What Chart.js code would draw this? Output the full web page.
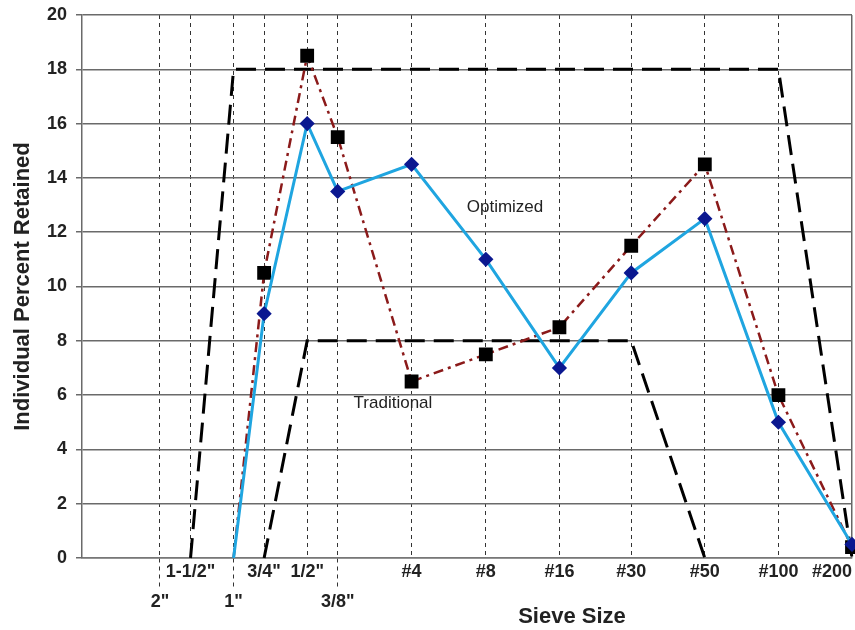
<!DOCTYPE html>
<html>
<head>
<meta charset="utf-8">
<title>Sieve Size - Individual Percent Retained</title>
<script src="https://cdn.jsdelivr.net/npm/chart.js@4.4.0/dist/chart.umd.min.js"></script>
<style>
  html, body { margin: 0; padding: 0; background: #fff; }
  canvas { display: block; }
</style>
</head>
<body>
<canvas id="sieveChart" width="855" height="630"></canvas>
<script>
// sieve sizes (labels) and their openings in mm
const sieveLabels = ['2"', '1-1/2"', '1"', '3/4"', '1/2"', '3/8"', '#4', '#8', '#16', '#30', '#50', '#100', '#200'];
const sieveOpenings = [50.8, 38.1, 25.4, 19.05, 12.7, 9.525, 4.75, 2.36, 1.18, 0.6, 0.3, 0.15, 0.075];
// labels written on the second row under the axis
const lowerRowLabels = ['2"', '1"', '3/8"'];

// percent retained on each sieve (null = no point)
const optimized   = [null, null, 0, 9,    16,   13.5, 14.5, 11,  7,   10.5, 12.5, 5, 0.5];
const traditional = [null, null, 0, 10.5, 18.5, 15.5, 6.5,  7.5, 8.5, 11.5, 14.5, 6, 0.4];
// dashed limit lines
const limit18 = [null, 0,    18,   18,   18, 18, 18, 18, 18, 18, 18,   18,   0];
const limit8  = [null, null, null, 0,    8,  8,  8,  8,  8,  8,  0,    null, null];

// y axis ticks
const yMin = 0;
const yMax = 20;
const yStep = 2;
// left end of the sieve axis (mm)
const X_AXIS_MAX = 105.9;

// text notes inside the plot: [text, opening mm, percent]
const noteTexts = ['Optimized', 'Traditional'];
const noteX = [1.97, 5.66];
const noteY = [12.9, 5.7];

const FONT = '"Liberation Sans", Arial, Helvetica, sans-serif';

function toPoints(values) {
  return values
    .map((v, i) => (v === null ? null : { x: sieveOpenings[i], y: v }))
    .filter(p => p !== null);
}

// notes and x title
const textPlugin = {
  id: 'textNotes',
  afterDatasetsDraw(chart) {
    const { ctx, scales } = chart;
    ctx.save();
    ctx.fillStyle = '#222';
    ctx.font = '17px ' + FONT;
    ctx.textAlign = 'center';
    ctx.textBaseline = 'middle';
    noteTexts.forEach((t, i) => {
      ctx.fillText(t, scales.x.getPixelForValue(noteX[i]), scales.y.getPixelForValue(noteY[i]));
    });
    ctx.font = 'bold 22px ' + FONT;
    ctx.fillText('Sieve Size', 572, 617);
    ctx.restore();
  }
};

const ctx = document.getElementById('sieveChart').getContext('2d');
new Chart(ctx, {
  type: 'line',
  data: {
    datasets: [
      {
        label: 'Optimized',
        data: toPoints(optimized),
        borderColor: '#1fa5e0',
        borderWidth: 3,
        pointStyle: 'rectRot',
        pointRadius: c => (c.raw && c.raw.y === 0 ? 0 : 5.5),
        pointBackgroundColor: '#0b1890',
        pointBorderColor: '#0b1890',
        tension: 0
      },
      {
        label: 'Traditional',
        data: toPoints(traditional),
        borderColor: '#8b1a1a',
        borderWidth: 2.5,
        borderDash: [10, 5, 3, 5],
        pointStyle: 'rect',
        pointRadius: c => (c.raw && c.raw.y === 0 ? 0 : 8),
        pointBackgroundColor: '#000',
        pointBorderColor: '#000',
        tension: 0
      },
      {
        label: 'Limit 18',
        data: toPoints(limit18),
        borderColor: '#000',
        borderWidth: 3,
        borderDash: [20, 9],
        pointRadius: 0,
        tension: 0
      },
      {
        label: 'Limit 8',
        data: toPoints(limit8),
        borderColor: '#000',
        borderWidth: 3,
        borderDash: [20, 9],
        pointRadius: 0,
        tension: 0
      }
    ]
  },
  options: {
    responsive: false,
    animation: false,
    clip: false,
    layout: {
      autoPadding: false,
      padding: { left: 6, top: 15, right: 3, bottom: 0 }
    },
    plugins: {
      legend: { display: false },
      tooltip: { enabled: false }
    },
    scales: {
      x: {
        type: 'logarithmic',
        reverse: true,
        min: 0.075,
        max: X_AXIS_MAX,
        afterBuildTicks: scale => {
          scale.ticks = sieveOpenings.concat([X_AXIS_MAX])
            .sort((a, b) => a - b)
            .map(v => ({ value: v }));
        },
        afterFit: scale => {
          scale.height = 72;
          scale.paddingLeft = 0;
          scale.paddingRight = 0;
        },
        grid: {
          color: c => (c.tick && c.tick.value === X_AXIS_MAX ? 'rgba(0,0,0,0)' : (c.index === 0 ? '#666' : '#333')),
          lineWidth: c => (c.index === 0 ? 1.5 : 1),
          tickLength: 30,
          tickColor: c => {
            const i = sieveOpenings.indexOf(c.tick ? c.tick.value : -1);
            return i >= 0 && lowerRowLabels.includes(sieveLabels[i]) ? '#333' : 'rgba(0,0,0,0)';
          },
          tickWidth: 1,
          tickBorderDash: [4, 4]
        },
        border: {
          color: '#777',
          width: 1.5,
          dash: c => (c.index === 0 ? [] : [4, 4])
        },
        ticks: {
          autoSkip: false,
          maxRotation: 0,
          align: 'inner',
          padding: -31,
          color: '#222',
          font: { family: FONT, size: 18, weight: 'bold', lineHeight: 1.67 },
          callback: value => {
            const i = sieveOpenings.indexOf(value);
            if (i < 0) return '';
            const lab = sieveLabels[i];
            return lowerRowLabels.includes(lab) ? ['', lab] : lab;
          }
        }
      },
      y: {
        min: yMin,
        max: yMax,
        afterFit: scale => {
          scale.width = 76;
          scale.paddingTop = 0;
        },
        grid: {
          color: '#6a6a6a',
          lineWidth: 1.5,
          tickLength: 6
        },
        border: { color: '#6a6a6a', width: 1.5 },
        ticks: {
          stepSize: yStep,
          padding: 9,
          color: '#222',
          font: { family: FONT, size: 18, weight: 'bold' }
        },
        title: {
          display: true,
          text: 'Individual Percent Retained',
          color: '#222',
          font: { family: FONT, size: 22, weight: 'bold' },
          padding: { top: 4, bottom: 0 }
        }
      }
    }
  },
  plugins: [textPlugin]
});
</script>
</body>
</html>
